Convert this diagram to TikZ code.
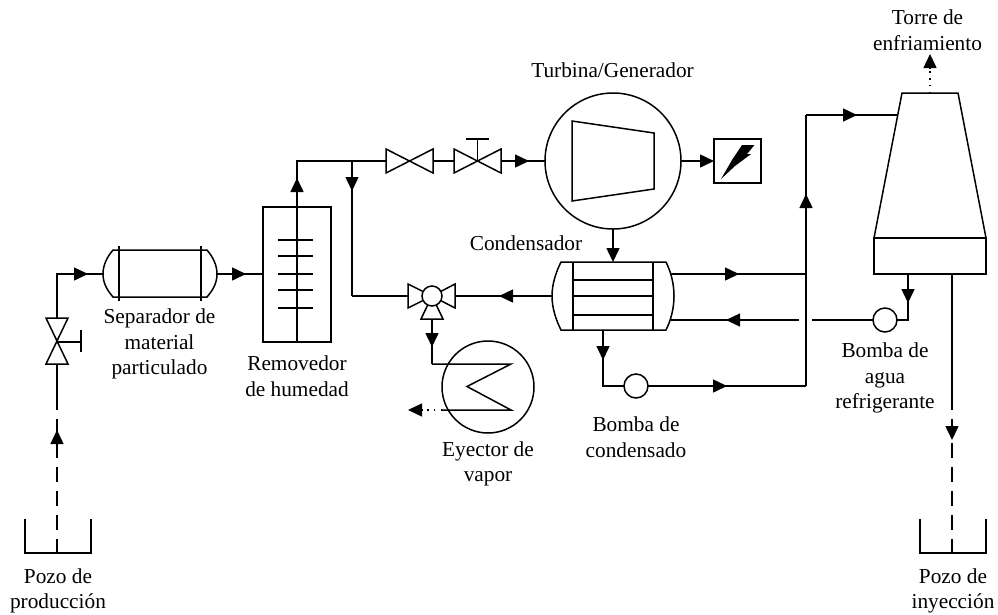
\documentclass[tikz,border=0pt]{standalone}
\usepackage{fontspec}
\setmainfont{Liberation Serif}
\usetikzlibrary{arrows.meta,decorations.markings}
\tikzset{
  pipe/.style={line width=1.5pt,line join=miter},
  roundeq/.style={circle,draw,line width=1.5pt,fill=white,inner sep=0pt,outer sep=0pt,minimum size=#1},
  lbl/.style={align=center,inner sep=0pt,font=\fontsize{21.3}{25.5}\selectfont},
  flowtip/.tip={Triangle[length=14pt,width=13pt]},
  arrowat/.style={postaction={decorate},decoration={markings,mark=at position #1 with {\arrow{flowtip}}}},
  arrowback/.style={postaction={decorate},decoration={markings,mark=at position #1 with {\arrowreversed{flowtip}}}},
  welldash/.style={pipe,dash pattern=on 15pt off 9pt},
  dotline/.style={pipe,dash pattern=on 1.5pt off 5.2pt}
}
\begin{document}
\begin{tikzpicture}[x=1pt,y=-1pt]
\useasboundingbox (0,0) rectangle (998,614);
% ---- named points
\coordinate (wp) at (57,553);
\coordinate (wptop) at (57,419);
\coordinate (wpup) at (57,410);
\coordinate (vIb) at (57,364);
\coordinate (vIc) at (57,342);
\coordinate (vIt) at (57,318);
\coordinate (c1) at (57,274);
\coordinate (sepL) at (103,274);
\coordinate (sepR) at (217,274);
\coordinate (remL) at (263,274);
\coordinate (remB) at (297,342);
\coordinate (remT) at (297,161);
\coordinate (tee) at (352,161);
\coordinate (c2) at (352,296);
\coordinate (vAl) at (386,161);
\coordinate (vAc) at (409.5,161);
\coordinate (vAr) at (433,161);
\coordinate (vBl) at (454,161);
\coordinate (vBc) at (477.5,161);
\coordinate (vBr) at (501,161);
\coordinate (condL) at (552,296);
\coordinate (condT) at (613,262);
\coordinate (condB) at (603,330);
\coordinate (c3) at (603,386);
\coordinate (c4) at (806,386);
\coordinate (c5) at (806,115);
\coordinate (twr) at (898,115);
\coordinate (o1) at (670,274);
\coordinate (j1) at (806,274);
\coordinate (o2) at (671,320);
\coordinate (g1) at (799,320);
\coordinate (g2) at (812,320);
\coordinate (c6) at (908,320);
\coordinate (twb) at (908,274);
\coordinate (inj) at (952,274);
\coordinate (injE) at (952,410);
\coordinate (iw) at (952,419);
\coordinate (iwb) at (952,553);
\coordinate (twt) at (930,93);
\coordinate (twu) at (930,68);
\coordinate (e1) at (432,364);
\coordinate (e2) at (511,364);
\coordinate (e3) at (467,386.5);
\coordinate (e4) at (511,410);
\coordinate (e5) at (442,410);
\coordinate (e6) at (422,410);
\coordinate (v3b) at (432,319);

% ---- circular equipment (white-filled, so drawn before its pipes)
\node[roundeq=136pt] (turb) at (613,161) {};
\node[roundeq=92pt] (ejec) at (488,387) {};

% ---- connectors
\draw[welldash,arrowback=11pt] (wptop) -- (wp);
\draw[pipe] (wpup) -- (vIb);
\draw[pipe,arrowat=75pt] (vIt) -- (c1) -- (sepL);
\draw[pipe,arrowat=29pt] (sepR) -- (remL);
\draw[pipe,arrowat=164pt] (remB) -- (remT) -- (tee);
\draw[pipe] (tee) -- (vAl);
\draw[pipe,arrowat=30pt] (tee) -- (c2);
\draw[pipe] (c2) -- (408,296);
\draw[pipe] (vAr) -- (vBl);
\draw[pipe,arrowat=28pt] (vBr) -- (turb.west);
\draw[pipe,-{flowtip}] (turb.south) -- (condT);
\draw[pipe,arrowat=53pt] (condL) -- (455,296);
\draw[pipe,arrowat=28pt] (v3b) -- (e1);
\draw[pipe] (e1) -- (e2) -- (e3) -- (e4) -- (e5);
\draw[dotline] (e5) -- (e6);
\draw[pipe,arrowat=69pt] (o1) -- (j1);
\draw[pipe,arrowat=73pt] (g1) -- (o2);
\draw[pipe] (g2) -- (873,320);
\draw[pipe,arrowat=192pt] (c4) -- (c5);
\draw[pipe,arrowat=51pt] (c5) -- (twr);
\draw[pipe,arrowat=29pt] (twb) -- (c6) -- (897,320);
\draw[pipe] (inj) -- (injE);
\draw[welldash,arrowat=21pt] (iw) -- (iwb);
\draw[dotline] (twt) -- (twu);
\draw[pipe,-{flowtip}] (twu) -- (930,54);
\draw[pipe,-{flowtip}] (e6) -- (408,410);

% ---- pumps
\node[roundeq=24pt] (pumpA) at (636,386) {};
\node[roundeq=24pt] (pumpB) at (885,320) {};
\draw[pipe,arrowat=30pt] (condB) -- (c3) -- (pumpA.west);
\draw[pipe,arrowat=79pt] (pumpA.east) -- (c4);

% ---- production valve
\draw[pipe] (46,318) -- (68,318) -- (46,364) -- (68,364) -- cycle;
\draw[pipe] (vIc) -- (81,342);
\draw[pipe] (81,330) -- (81,352);

% ---- separator
\draw[pipe] (113,250) -- (207,250) .. controls (213,257) and (217,265) .. (217,274)
  .. controls (217,283) and (213,290) .. (207,297) -- (113,297)
  .. controls (107,290) and (103,283) .. (103,274) .. controls (103,265) and (107,257) .. (113,250) -- cycle;
\draw[pipe] (119,246) -- (119,301);
\draw[pipe] (201,246) -- (201,301);

% ---- moisture remover
\draw[pipe] (263,207) rectangle (331,342);
\foreach \py in {240,256,274,290,308}{\draw[pipe] (278,\py) -- (313,\py);}

% ---- line valves
\draw[pipe] (386,149) -- (433,173) -- (433,149) -- (386,173) -- cycle;
\draw[pipe] (454,149) -- (501,173) -- (501,149) -- (454,173) -- cycle;
\draw[pipe] (vBc) -- (477.5,139);
\draw[pipe] (466,139) -- (489,139);

% ---- three-way valve
\draw[pipe] (408,284) -- (432,296) -- (408,308) -- cycle;
\draw[pipe] (455,284) -- (432,296) -- (455,308) -- cycle;
\draw[pipe] (421,319) -- (432,296) -- (443,319) -- cycle;
\node[roundeq=20pt] (v3) at (432,296) {};

% ---- turbine
\draw[pipe] (572,121) -- (654,133) -- (654,189) -- (572,201) -- cycle;
\draw[pipe,-{flowtip}] (turb.east) -- (714,161);

% ---- generator
\node[draw,line width=1.5pt,inner sep=0pt,outer sep=0pt,minimum width=47pt,minimum height=44pt] (gen) at (737.5,161) {};
\fill (742,145) -- (754.5,145) -- (747,154) -- (751,154) -- (735,166) -- (721,179) -- (732,160) -- cycle;

% ---- condenser
\draw[pipe] (561,262) -- (666,262) .. controls (671,272) and (674,284) .. (674,296)
  .. controls (674,308) and (671,320) .. (666,330) -- (561,330)
  .. controls (556,320) and (552,308) .. (552,296) .. controls (552,284) and (556,272) .. (561,262) -- cycle;
\draw[pipe] (573,262) -- (573,330);
\draw[pipe] (653,262) -- (653,330);
\foreach \py in {280,296,315}{\draw[pipe] (573,\py) -- (653,\py);}

% ---- cooling tower
\draw[pipe] (902,93) -- (958,93) -- (986,238) -- (874,238) -- cycle;
\draw[pipe] (874,238) rectangle (986,274);

% ---- wells
\draw[pipe] (25,519) -- (25,553) -- (91,553) -- (91,519);
\draw[pipe] (920,519) -- (920,553) -- (986,553) -- (986,519);

% ---- labels
\node[lbl] (tTorre) at (927.5,30) {Torre de\\enfriamiento};
\node[lbl] (tTurb) at (612.5,70) {Turbina/Generador};
\node[lbl] (tCond) at (526,243) {Condensador};
\node[lbl] (tSep) at (159.5,344) {Separador de\\material\\particulado};
\node[lbl] (tRem) at (297,376) {Removedor\\de humedad};
\node[lbl] (tEyec) at (488,464) {Eyector de\\vapor};
\node[lbl] (tBc) at (636,437) {Bomba de\\condensado};
\node[lbl] (tBa) at (885,378) {Bomba de\\agua\\refrigerante};
\node[lbl] (tPp) at (58,591) {Pozo de\\producción};
\node[lbl] (tPi) at (953,591) {Pozo de\\inyección};
\end{tikzpicture}
\end{document}
